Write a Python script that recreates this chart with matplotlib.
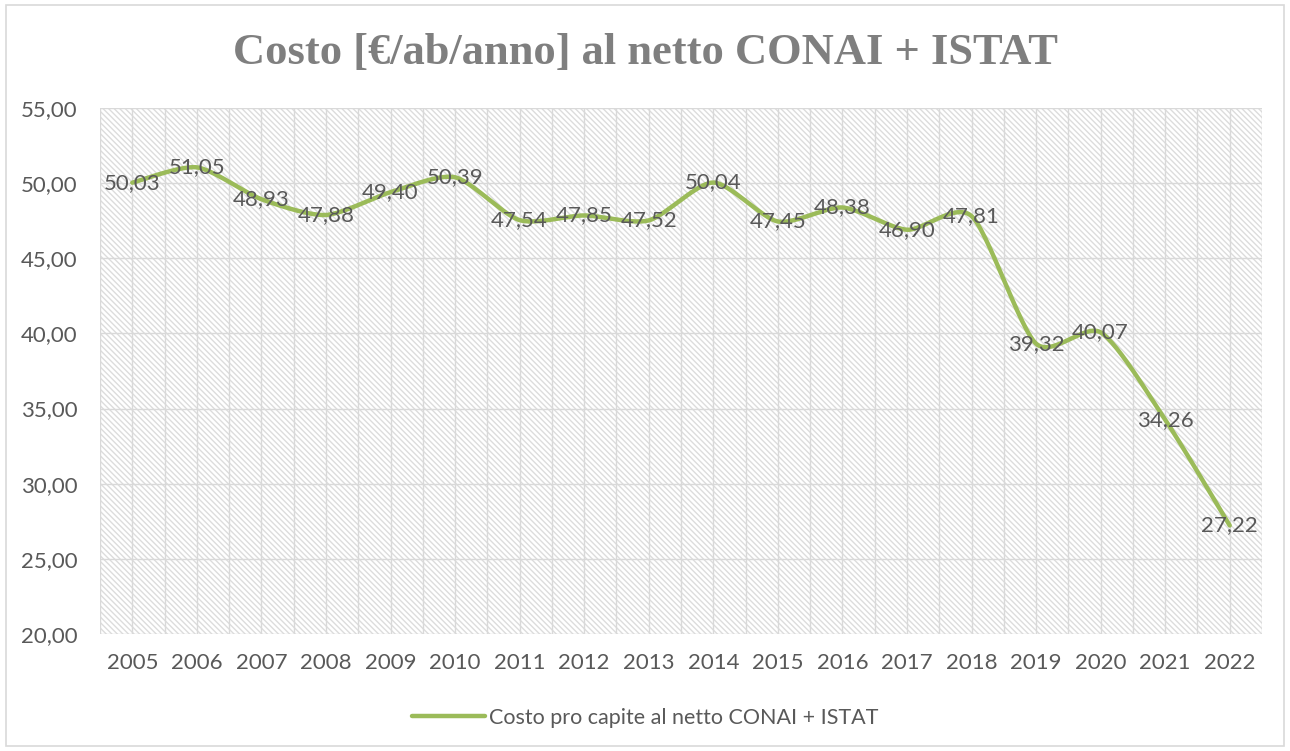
import numpy as np
import matplotlib
matplotlib.use("Agg")
from matplotlib import pyplot as plt
from matplotlib.patches import Rectangle

########## Data ###################
years = ['2005', '2006', '2007', '2008', '2009', '2010', '2011', '2012', '2013',
         '2014', '2015', '2016', '2017', '2018', '2019', '2020', '2021', '2022']
costo = [50.03, 51.05, 48.93, 47.88, 49.40, 50.39, 47.54, 47.85, 47.52,
         50.04, 47.45, 48.38, 46.90, 47.81, 39.32, 40.07, 34.26, 27.22]
y_ticks = [20, 25, 30, 35, 40, 45, 50, 55]
title = 'Costo [€/ab/anno] al netto CONAI + ISTAT'
series_name = 'Costo pro capite al netto CONAI + ISTAT'
###################################

plt.rcParams['font.family'] = ['Lato', 'DejaVu Sans']
plt.rcParams['hatch.linewidth'] = 1.0

line_col = '#9BBB59'
txt_col = '#595959'
grid_col = '#d9d9d9'


def smooth(xs, ys, n=30, k=1 / 8.0):
    # Excel-like smoothed line: cubic bezier, control points from neighbours
    xs = np.asarray(xs, float)
    ys = np.asarray(ys, float)
    px, py = [], []
    for i in range(len(xs) - 1):
        i0 = max(i - 1, 0)
        i3 = min(i + 2, len(xs) - 1)
        p0 = np.array([xs[i], ys[i]])
        p3 = np.array([xs[i + 1], ys[i + 1]])
        c1 = p0 + (p3 - np.array([xs[i0], ys[i0]])) * k
        c2 = p3 - (np.array([xs[i3], ys[i3]]) - p0) * k
        t = np.linspace(0, 1, n)[:, None]
        pts = (1 - t) ** 3 * p0 + 3 * (1 - t) ** 2 * t * c1 + 3 * (1 - t) * t ** 2 * c2 + t ** 3 * p3
        px.extend(pts[:, 0])
        py.extend(pts[:, 1])
    return px, py


fig = plt.figure(figsize=(12.9, 7.51), dpi=100)
# outer chart border
fig.patches.append(Rectangle((0.005, 0.007), 0.99, 0.986, transform=fig.transFigure,
                             fill=False, edgecolor=grid_col, linewidth=1.2))

ax = fig.add_axes([100 / 1290, 1 - 634 / 751, 1162 / 1290, 526 / 751])
x = np.arange(len(years))
ax.set_xlim(-0.5, len(years) - 0.5)
ax.set_ylim(y_ticks[0], y_ticks[-1])

# hatched background
ax.add_patch(Rectangle((-0.5, y_ticks[0]), len(years), y_ticks[-1] - y_ticks[0],
                       facecolor='white', edgecolor='#dcdcdc', linewidth=0,
                       hatch='\\' * 6, zorder=0))

# gridlines (vertical at centres and boundaries)
for xv in np.arange(-0.5, len(years), 0.5):
    ax.axvline(xv, color=grid_col, lw=1.0, zorder=1)
for yv in y_ticks:
    ax.axhline(yv, color=grid_col, lw=1.0, zorder=1)

sx, sy = smooth(x, costo)
ax.plot(sx, sy, color=line_col, lw=3.2, solid_capstyle='round', zorder=3,
        label=series_name)

for xi, v in zip(x, costo):
    ax.text(xi, v, f'{v:.2f}'.replace('.', ','), ha='center', va='center',
            fontsize=16, color=txt_col, zorder=4)

ax.set_xticks(x)
ax.set_xticklabels(years)
ax.set_yticks(y_ticks)
ax.set_yticklabels([f'{v:.2f}'.replace('.', ',') for v in y_ticks])
ax.tick_params(length=0, labelsize=16, colors=txt_col, pad=14)
ax.tick_params(axis='y', pad=16)
for s in ax.spines.values():
    s.set_visible(False)

fig.text(0.5, 1 - 53 / 751, title, ha='center', va='center', fontsize=32,
         fontweight='bold', color='#7f7f7f', family=['Liberation Serif', 'DejaVu Serif'])

fig.legend(loc='center', bbox_to_anchor=(0.5, 1 - 718 / 751), frameon=False,
           fontsize=15.5, labelcolor=txt_col, handlelength=3.4, handletextpad=0.15)

fig.savefig('out.png', dpi=100)
